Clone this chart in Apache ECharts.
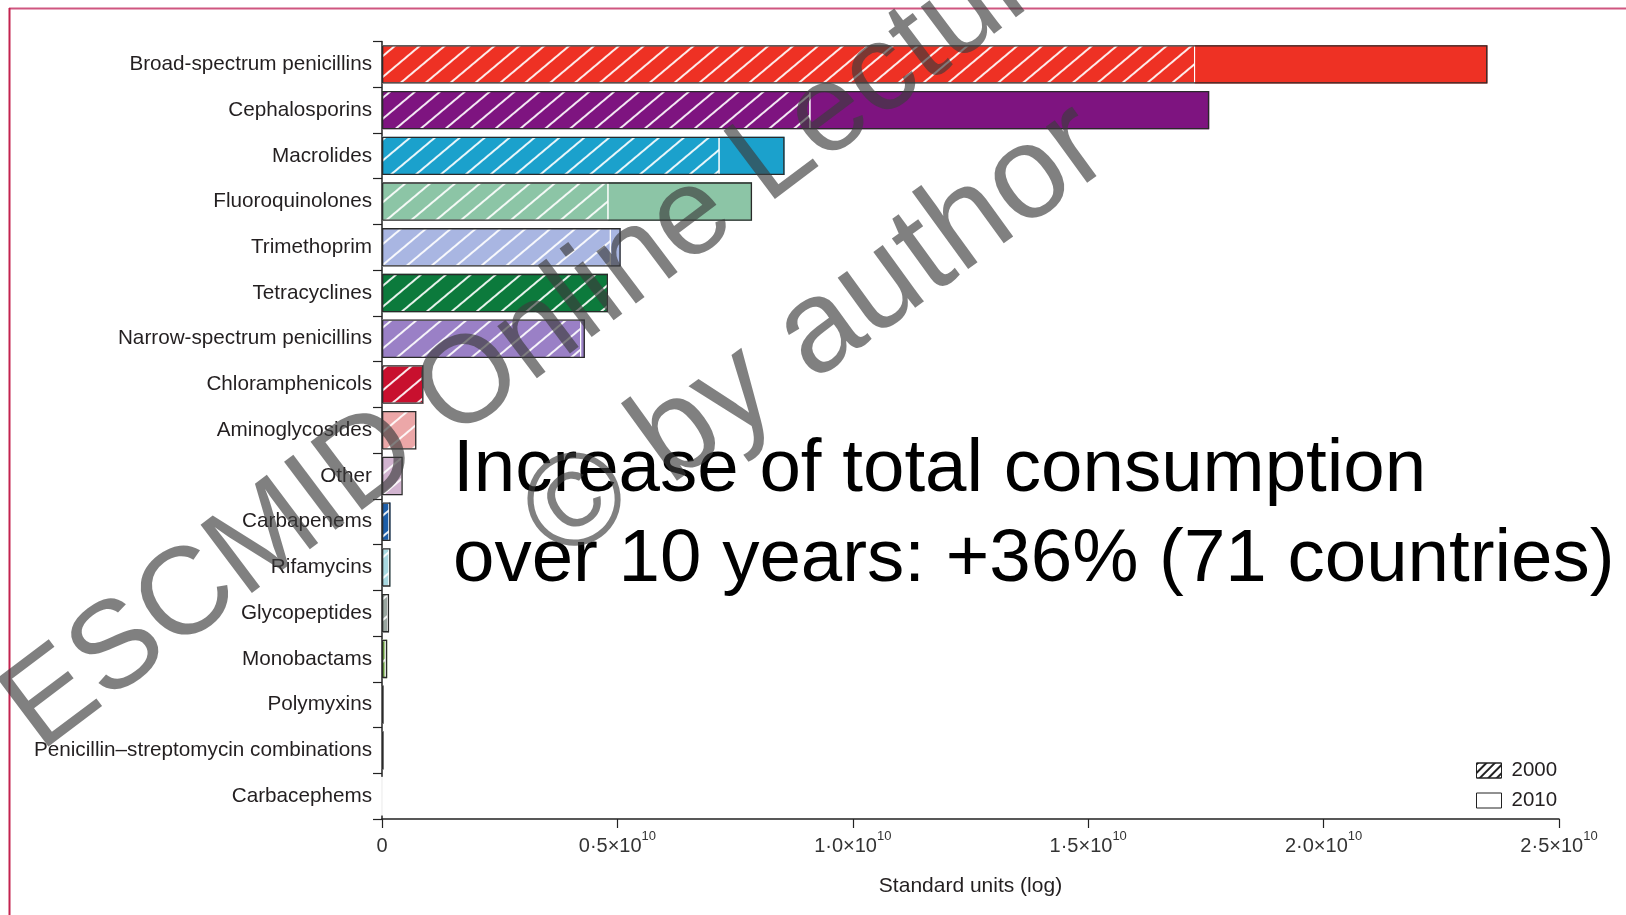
<!DOCTYPE html>
<html>
    <head>
        <meta charset="utf-8">
        <title>Antibiotic consumption 2000 vs 2010</title>
        <script src="https://cdn.jsdelivr.net/npm/echarts@6/dist/echarts.min.js"></script>
        <style type="text/css">
            *{margin: 0}
            body{background: #fff}
        </style>
    </head>
    <body>
        <div id="main" style="width: 1626px;height:915px;"></div>
        <script type="text/javascript">
        // categories, top to bottom
        var categories = ['Broad-spectrum penicillins', 'Cephalosporins', 'Macrolides', 'Fluoroquinolones',
            'Trimethoprim', 'Tetracyclines', 'Narrow-spectrum penicillins', 'Chloramphenicols',
            'Aminoglycosides', 'Other', 'Carbapenems', 'Rifamycins', 'Glycopeptides', 'Monobactams',
            'Polymyxins', 'Penicillin–streptomycin combinations', 'Carbacephems'];
        // standard units
        var values2010 = [2.348e10, 1.757e10, 0.855e10, 0.786e10, 0.507e10, 0.480e10, 0.431e10, 0.088e10,
            0.073e10, 0.044e10, 0.018e10, 0.018e10, 0.015e10, 0.011e10, 0.003e10, 0.003e10, 0];
        var values2000 = [1.727e10, 0.910e10, 0.717e10, 0.481e10, 0.486e10, 0.480e10, 0.423e10, 0.088e10,
            0.073e10, 0.044e10, 0.016e10, 0.016e10, 0.013e10, 0.008e10, 0.002e10, 0.002e10, 0];
        var classColors = ['#ee3124', '#7e1480', '#1ba1cc', '#8cc5a6', '#a9b6e2', '#0c7a3c', '#9a80c6', '#c8102e',
            '#eca7a8', '#d2b4d0', '#1d5ea8', '#a9d9e1', '#9aa7a1', '#6fae3c', '#222222', '#222222', '#222222'];
        var xTicks = [0, 0.5e10, 1.0e10, 1.5e10, 2.0e10, 2.5e10];

        var myChart = echarts.init(document.getElementById('main'));

        var labelFont = '"Liberation Sans", Arial, sans-serif';
        var hatch = {
            symbol: 'rect',
            color: 'rgba(255,255,255,0.9)',
            dashArrayX: [1, 0],
            dashArrayY: [1.6, 14],
            rotation: -Math.PI * 40 / 180
        };

        function colored(vals) {
            return vals.map(function (v, i) {
                return {value: v, itemStyle: {color: classColors[i]}};
            });
        }

        var wmStyle = {fill: 'rgba(60,60,60,0.65)', fontFamily: '"Liberation Sans", Arial, sans-serif',
            textAlign: 'center', textVerticalAlign: 'middle', align: 'center', verticalAlign: 'middle'};

        myChart.setOption({
            animation: false,
            grid: {left: 382, right: 67, top: 41.5, bottom: 96},
            legend: {
                orient: 'vertical',
                left: 1471,
                top: 755,
                itemWidth: 25,
                itemHeight: 15,
                itemGap: 9,
                textStyle: {fontSize: 20.5, color: '#231f20', fontFamily: labelFont, padding: [0, 0, 0, 5]},
                data: [
                    {name: '2000', icon: 'rect', itemStyle: {color: '#fff', borderColor: '#222', borderWidth: 1,
                        decal: {symbol: 'rect', color: '#222', dashArrayX: [1, 0], dashArrayY: [1.5, 3.5], rotation: -Math.PI / 4}}},
                    {name: '2010', icon: 'rect', itemStyle: {color: '#fff', borderColor: '#222', borderWidth: 1}}
                ]
            },
            xAxis: {
                type: 'value',
                min: 0,
                max: 2.5e10,
                interval: 0.5e10,
                splitLine: {show: false},
                axisLine: {show: true, lineStyle: {color: '#222', width: 1.5}},
                axisTick: {show: true, length: 9, lineStyle: {color: '#222', width: 1.2}},
                axisLabel: {
                    margin: 11,
                    color: '#333',
                    fontFamily: labelFont,
                    formatter: function (v) {
                        if (xTicks.indexOf(v) < 0) return '';
                        if (v === 0) return '{m|0}';
                        return '{m|' + (v / 1e10).toFixed(1).replace('.', '·') + '×10}{s|10}';
                    },
                    rich: {
                        m: {fontSize: 20, lineHeight: 26, color: '#333', fontFamily: labelFont, verticalAlign: 'bottom'},
                        s: {fontSize: 13, lineHeight: 26, color: '#333', fontFamily: labelFont, verticalAlign: 'top'}
                    }
                },
                name: 'Standard units (log)',
                nameLocation: 'middle',
                nameGap: 57,
                nameTextStyle: {fontSize: 21, color: '#231f20', fontFamily: labelFont}
            },
            yAxis: {
                type: 'category',
                inverse: true,
                data: categories,
                axisLine: {lineStyle: {color: '#222', width: 1.5}},
                axisTick: {show: true, length: 9, lineStyle: {color: '#222', width: 1.2}},
                axisLabel: {margin: 10, fontSize: 20.7, color: '#231f20', fontFamily: labelFont}
            },
            series: [
                {
                    name: '2010',
                    type: 'bar',
                    barGap: '-100%',
                    barCategoryGap: '16%',
                    itemStyle: {color: '#888'},
                    data: colored(values2010)
                },
                {
                    name: '2000',
                    type: 'bar',
                    barGap: '-100%',
                    barCategoryGap: '16%',
                    itemStyle: {color: '#888', borderColor: '#fff', borderWidth: 1, decal: hatch},
                    data: colored(values2000)
                },
                {
                    name: '2010',
                    type: 'bar',
                    barGap: '-100%',
                    barCategoryGap: '16%',
                    silent: true,
                    itemStyle: {color: 'rgba(0,0,0,0)', borderColor: '#2a2a2a', borderWidth: 1.3},
                    data: values2010.map(function (v) {
                        return {value: v, itemStyle: {borderWidth: v > 0 ? 1.3 : 0}};
                    })
                }
            ],
            graphic: [
                {type: 'line', z: 50, shape: {x1: 9, y1: 8.5, x2: 1626, y2: 8.5}, style: {stroke: '#cf5680', lineWidth: 2}},
                {type: 'line', z: 50, shape: {x1: 9.5, y1: 8, x2: 9.5, y2: 915}, style: {stroke: '#c3234f', lineWidth: 2}},
                {type: 'text', z: 60, x: 453, y: 470,
                    style: {text: 'Increase of total consumption', fill: '#000', fontSize: 74.5, fontFamily: '"Liberation Sans", Arial, sans-serif',
                        textAlign: 'left', textVerticalAlign: 'middle', align: 'left', verticalAlign: 'middle'}},
                {type: 'text', z: 60, x: 453, y: 560,
                    style: {text: 'over 10 years: +36% (71 countries)', fill: '#000', fontSize: 74.5, fontFamily: '"Liberation Sans", Arial, sans-serif',
                        textAlign: 'left', textVerticalAlign: 'middle', align: 'left', verticalAlign: 'middle'}},
                {type: 'text', z: 100, x: 548, y: 327, rotation: Math.PI * 37 / 180,
                    style: Object.assign({text: 'ESCMID Online Lecture', fontSize: 124}, wmStyle)},
                {type: 'text', z: 100, x: 817, y: 334, rotation: Math.PI * 36 / 180,
                    style: Object.assign({text: '© by author', fontSize: 132}, wmStyle)}
            ]
        });
        </script>
    </body>
</html>
